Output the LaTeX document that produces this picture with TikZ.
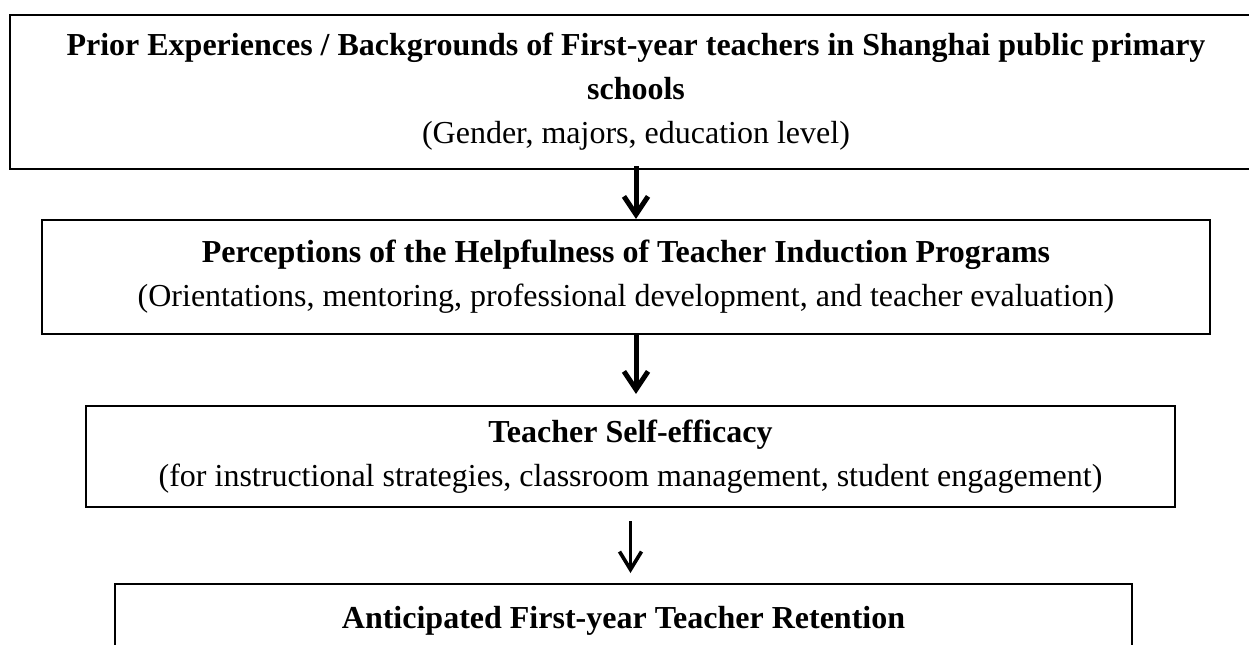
\documentclass[tikz,border=0pt]{standalone}
\usepackage{fontspec}
\setmainfont{Liberation Serif}
\usetikzlibrary{arrows.meta}

\begin{document}
\begin{tikzpicture}[x=0.5pt,y=-0.5pt,
    stage/.style={draw,line width=1.1pt,align=center,inner sep=0pt,font=\fontsize{16}{22}\selectfont},
    flow/.style={line width=2.5pt,-{Straight Barb[length=9pt,width=12pt]}},
    thinflow/.style={line width=1.8pt,-{Straight Barb[length=9pt,width=11pt]}}]
    \clip (0,0) rectangle (1249,644);
    \node [stage,minimum width=626pt,minimum height=77pt] (prior) at (636,92)
      {\textbf{Prior Experiences / Backgrounds of First-year teachers in Shanghai public primary}\\
       \textbf{schools}\\
       (Gender, majors, education level)};
    \node [stage,minimum width=584pt,minimum height=57pt] (percep) at (626,277)
      {\textbf{Perceptions of the Helpfulness of Teacher Induction Programs}\\
       (Orientations, mentoring, professional development, and teacher evaluation)};
    \node [stage,minimum width=544.5pt,minimum height=50.5pt] (selfeff) at (630.5,456.5)
      {\textbf{Teacher Self-efficacy}\\
       (for instructional strategies, classroom management, student engagement)};
    \node [stage,anchor=north,minimum width=508.5pt,inner ysep=6pt,text height=16pt,text depth=40pt] (retain) at (623.5,583)
      {\textbf{Anticipated First-year Teacher Retention}};
    \draw [flow] ([yshift=2pt]prior.south) -- (prior.south |- percep.north);
    \draw [flow,shorten >=5.5pt] (prior.south |- percep.south) -- (prior.south |- selfeff.north);
    \draw [thinflow,shorten <=6.5pt,shorten >=5pt] (selfeff.south) -- (selfeff.south |- retain.north);
\end{tikzpicture}
\end{document}
